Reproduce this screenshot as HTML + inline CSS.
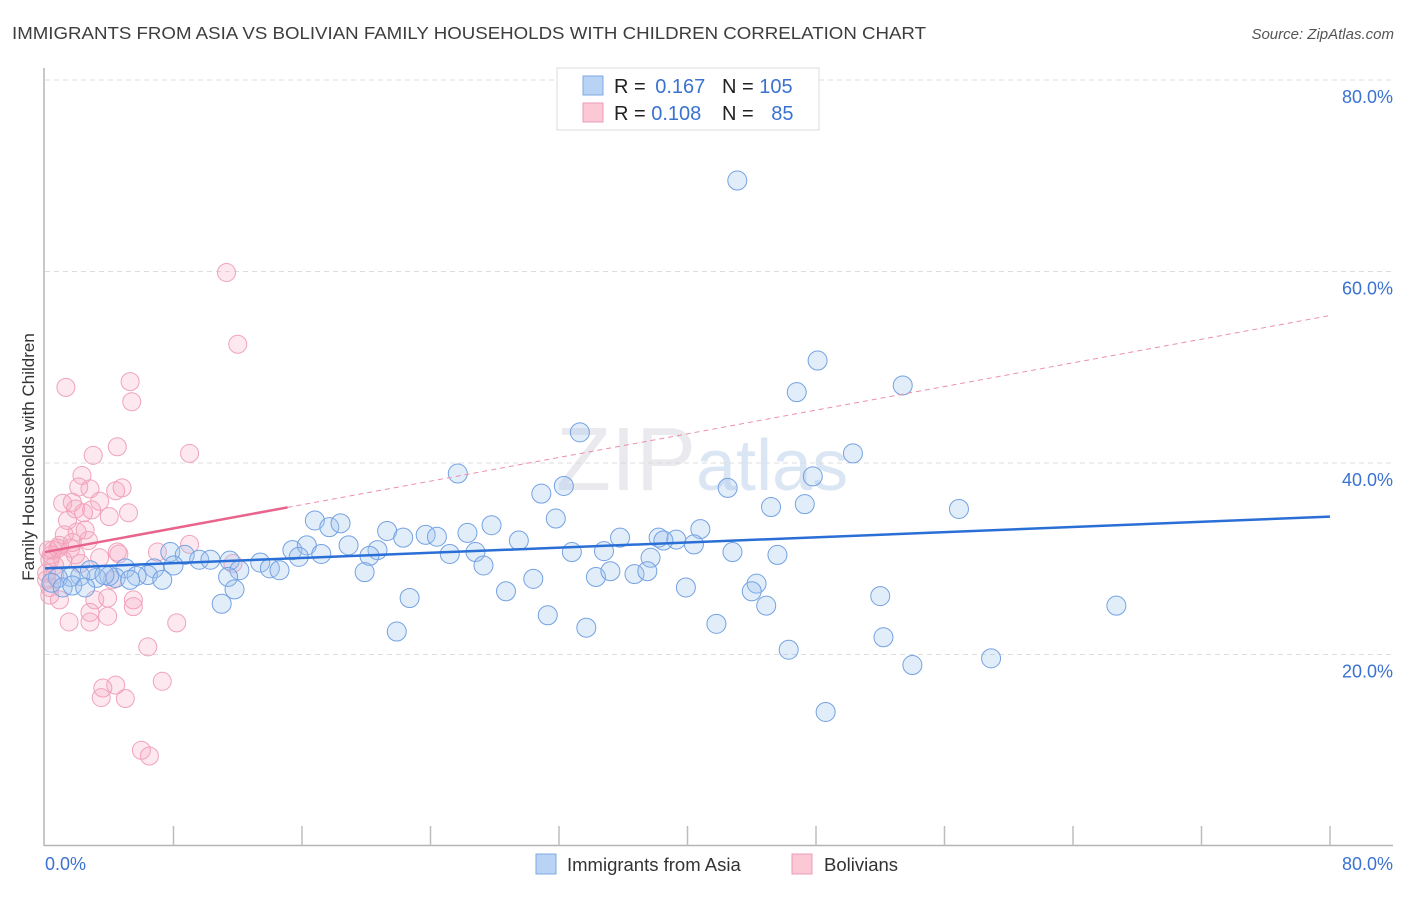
<!DOCTYPE html>
<html><head><meta charset="utf-8">
<style>
body{margin:0;background:#fff;font-family:"Liberation Sans",sans-serif;}
svg text{font-family:"Liberation Sans",sans-serif;}
</style></head>
<body>
<svg id="chart" width="1406" height="892" xmlns="http://www.w3.org/2000/svg">
<text x="12" y="39" font-size="17.5" fill="#3d3d3d" textLength="914" lengthAdjust="spacingAndGlyphs">IMMIGRANTS FROM ASIA VS BOLIVIAN FAMILY HOUSEHOLDS WITH CHILDREN CORRELATION CHART</text>
<text x="1394" y="39" font-size="15" fill="#555" font-style="italic" text-anchor="end">Source: ZipAtlas.com</text>
<text x="556" y="490" font-size="90" fill="#e9e9ee" font-family="Liberation Serif">ZIP<tspan fill="#dbe6f5" font-family="Liberation Sans" font-size="72">atlas</tspan></text>
<g id="grid"></g>
<g id="axes"></g>
<g id="pinkpts"></g>
<g id="bluepts"></g>
<g id="lines"></g>
<text transform="translate(34,457) rotate(-90)" font-size="17" fill="#333" text-anchor="middle">Family Households with Children</text>
<g>
<rect x="557" y="68" width="262" height="62" fill="#fff" stroke="#ddd"/>
<rect x="583" y="76" width="20" height="19" fill="#b9d3f5" stroke="#7fa8e6"/>
<rect x="583" y="103" width="20" height="19" fill="#fcc8d6" stroke="#ee9db5"/>
<text x="614" y="93" font-size="20" fill="#222">R = <tspan fill="#3b72d1" dx="4">0.167</tspan></text>
<text x="722" y="93" font-size="20" fill="#222">N = <tspan fill="#3b72d1">105</tspan></text>
<text x="614" y="120" font-size="20" fill="#222">R = <tspan fill="#3b72d1">0.108</tspan></text>
<text x="722" y="120" font-size="20" fill="#222">N = <tspan fill="#3b72d1" dx="12">85</tspan></text>
</g>
<g>
<rect x="536" y="854" width="20" height="20" fill="#b9d3f5" stroke="#7fa8e6"/>
<text x="567" y="871" font-size="18.5" fill="#333">Immigrants from Asia</text>
<rect x="792" y="854" width="20" height="20" fill="#fcc8d6" stroke="#ee9db5"/>
<text x="824" y="871" font-size="18.5" fill="#333">Bolivians</text>
</g>
</svg>
<script>
const blueX=[43.1,48.1,46.8,53.4,33.3,50.3,25.7,47.8,42.5,30.9,32.3,45.2,47.3,56.9,31.8,16.8,17.7,18.4,21.3,26.3,27.8,40.8,23.7,24.4,22.3,35.8,38.2,39.3,38.5,29.5,40.4,18.9,15.4,16.3,20.7,42.8,32.8,34.8,45.6,25.2,26.8,15.8,17.2,20.2,37.7,27.3,7.8,8.7,9.6,10.3,11.5,13.4,14.0,14.6,12.1,8.0,6.8,5.0,6.4,5.7,7.3,4.4,4.0,3.2,2.2,1.6,0.8,0.4,1.1,1.7,2.5,11.4,11.8,19.9,30.4,34.3,35.2,36.7,37.5,28.7,39.9,44.3,44.0,22.7,31.3,33.7,41.8,44.9,52.0,11.0,21.9,46.3,52.2,54.0,58.9,48.6,66.7,5.3,2.8,3.7];
const blueY=[69.5,50.7,47.4,48.1,43.2,41.0,38.9,38.6,37.4,36.8,37.6,35.4,35.7,35.2,34.2,34.0,33.3,33.7,32.9,32.7,33.5,33.1,32.5,32.3,32.2,32.2,32.2,32.0,31.9,31.9,31.5,31.4,30.9,31.4,30.9,30.7,30.7,30.8,30.4,30.5,30.7,30.2,30.5,30.3,30.1,29.3,30.7,30.4,29.9,29.9,29.8,29.6,29.0,28.8,28.8,29.3,29.0,29.0,28.3,28.2,27.8,28.0,28.2,28.0,28.2,28.1,28.0,27.5,27.0,27.2,27.0,28.1,26.8,28.6,27.9,28.1,28.7,28.4,28.7,26.6,27.0,27.4,26.6,25.9,24.1,22.8,23.2,25.1,26.1,25.3,22.4,20.5,21.8,18.9,19.6,14.0,25.1,27.8,28.8,28.3];
const pinkX=[1.3,5.3,5.4,3.0,4.5,9.0,2.3,2.1,2.8,4.4,4.8,1.1,1.7,3.4,1.9,2.4,4.0,5.2,1.4,2.0,2.7,0.9,0.5,1.7,9.0,7.0,4.5,4.6,2.2,3.4,11.7,0.3,0.1,0.3,3.9,5.5,5.5,1.5,2.8,2.8,3.9,8.2,6.4,4.4,3.6,3.5,5.0,7.3,6.0,6.5,11.3,12.0,0.2,0.4,0.6,0.1,0.3,0.8,1.1,0.6,1.2,1.6,2.5,2.9,3.1,4.2,0.9,1.9];
const pinkY=[47.9,48.5,46.4,40.8,41.7,41.0,38.7,37.5,37.3,37.1,37.4,35.8,35.9,36.0,35.2,34.8,34.4,34.8,34.0,32.8,31.9,31.4,30.9,31.7,31.5,30.7,30.7,30.5,29.5,30.1,29.5,29.9,28.5,27.0,25.9,25.7,25.0,23.4,24.4,23.4,24.0,23.3,20.8,16.8,16.5,15.5,15.4,17.2,10.0,9.4,59.9,52.4,30.9,30.4,29.3,27.8,26.2,31.1,29.9,28.3,32.5,31.1,33.0,35.1,25.7,27.8,25.7,30.4];
const blueTrend=[29.0,34.4];
const pinkTrend=[30.7,55.4];
const pinkSolidEnd=15.1;
const yTicks=[20,40,60,80];
const xTicks=[0,8,16,24,32,40,48,56,64,72,80];
const NS='http://www.w3.org/2000/svg';
const X=v=>45+v/80*1285;
const Y=v=>846-v/20*191.5;
function mk(tag,attrs,parent){const e=document.createElementNS(NS,tag);for(const k in attrs)e.setAttribute(k,attrs[k]);parent.appendChild(e);return e;}
const grid=document.getElementById('grid'),axes=document.getElementById('axes');
yTicks.forEach(t=>{
  const l=mk('line',{x1:45,x2:1393,y1:Y(t),y2:Y(t),stroke:'#dcdcdc','stroke-dasharray':'5,4'},grid);
  
  
  const tx=mk('text',{x:1393,y:Y(t)+23,'font-size':18,fill:'#3b72d1','text-anchor':'end'},grid);
  tx.textContent=t.toFixed(1)+'%';
  
  
});
let a=mk('line',{x1:44,x2:44,y1:68,y2:846,stroke:'#b5b5b5','stroke-width':1.5},axes);


a=mk('line',{x1:44,x2:1393,y1:845.5,y2:845.5,stroke:'#b5b5b5','stroke-width':1.5},axes);


xTicks.forEach(t=>{
  if(t===0)return;
  const l=mk('line',{x1:X(t),x2:X(t),y1:826,y2:846,stroke:'#bdbdbd','stroke-width':1.5},axes);
  
  
});
[[0,45,'start'],[80,1393,'end']].forEach(([v,x,anc])=>{
  const tx=mk('text',{x:x,y:870,'font-size':18,fill:'#3b72d1','text-anchor':anc},axes);
  tx.textContent=v.toFixed(1)+'%';
  
  
});
const pg=document.getElementById('pinkpts');
pinkX.forEach((v,i)=>{
  const c=mk('circle',{cx:X(v),cy:Y(pinkY[i]),r:9,fill:'rgba(246,165,190,0.25)',stroke:'#f0a3ba','stroke-width':1},pg);
  
  
});
const bg=document.getElementById('bluepts');
blueX.forEach((v,i)=>{
  const c=mk('circle',{cx:X(v),cy:Y(blueY[i]),r:9.5,fill:'rgba(160,195,240,0.3)',stroke:'#74a2e2','stroke-width':1},bg);
  
  
});
const lg=document.getElementById('lines');
const pAt=x=>pinkTrend[0]+(pinkTrend[1]-pinkTrend[0])*x/80;
let l=mk('line',{x1:X(pinkSolidEnd),y1:Y(pAt(pinkSolidEnd)),x2:X(80),y2:Y(pinkTrend[1]),stroke:'#ec8fab','stroke-width':1,'stroke-dasharray':'5,4'},lg);


l=mk('line',{x1:X(0),y1:Y(pinkTrend[0]),x2:X(pinkSolidEnd),y2:Y(pAt(pinkSolidEnd)),stroke:'#e8648c','stroke-width':2.5},lg);


l=mk('line',{x1:X(0),y1:Y(blueTrend[0]),x2:X(80),y2:Y(blueTrend[1]),stroke:'#2a6fd6','stroke-width':2.5},lg);


</script>
</body></html>
